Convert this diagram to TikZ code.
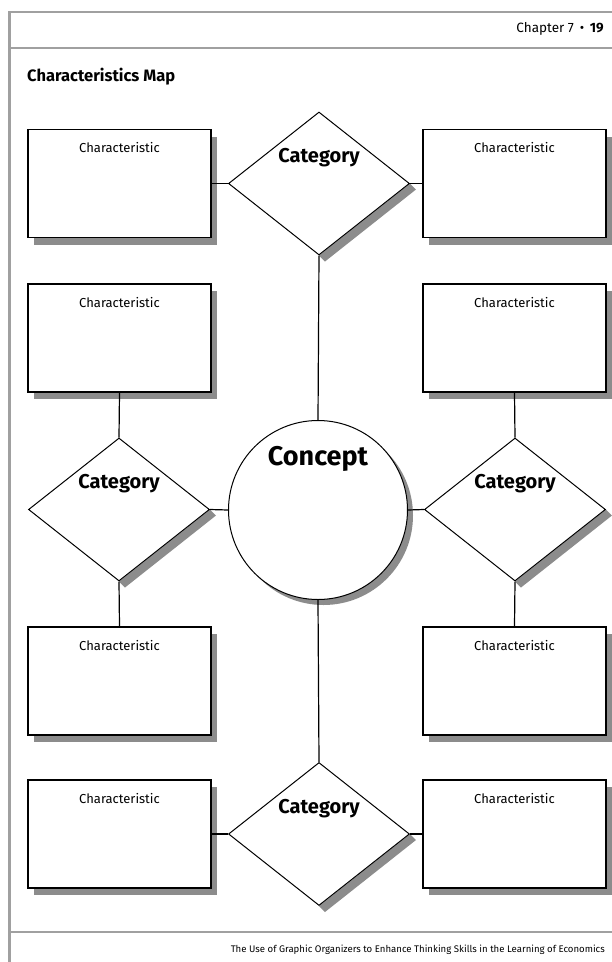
\documentclass[tikz,border=0pt]{standalone}
\usepackage{fontspec}
\setmainfont{Fira Sans}
\usetikzlibrary{shapes.geometric,calc}
\pgfdeclarelayer{shade}
\pgfsetlayers{shade,main}
\definecolor{framegray}{HTML}{A0A0A0}
\definecolor{shadegray}{HTML}{8C8C8C}
\tikzset{
  frameline/.style={framegray, line width=2pt},
  charbox/.style={draw, line width=1.3pt, fill=white, minimum width=183pt,
    minimum height=108pt, inner sep=0pt,
    preaction={fill=shadegray, transform canvas={shift={(6pt,-7pt)}}}},
  chartext/.style={anchor=base, inner sep=0pt, font=\fontsize{13}{15}\selectfont},
  catdiamond/.style={diamond, draw, line width=1pt, fill=white,
    minimum width=181pt, minimum height=143pt, inner sep=0pt},
  cattext/.style={anchor=base, inner sep=0pt, font=\bfseries\fontsize{20}{24}\selectfont},
  conceptcircle/.style={circle, draw, line width=1pt, fill=white,
    minimum size=179pt, inner sep=0pt,
    preaction={fill=shadegray, transform canvas={shift={(5.5pt,-5.5pt)}}}},
  link/.style={line width=1.2pt, black},
}
% hard shadow along the lower right edge of a diamond
\newcommand{\diamondshade}[1]{%
  \begin{pgfonlayer}{shade}
    \fill[shadegray] (#1.east) -- (#1.south) -- ([shift={(6pt,-6pt)}]#1.south)
      -- ([shift={(6pt,-6pt)}]#1.east) -- cycle;
  \end{pgfonlayer}}
\begin{document}
\begin{tikzpicture}[x=1pt,y=-1pt]
\useasboundingbox (0,0) rectangle (612,962);

% page frame
\draw[frameline] (9.5,12) -- (612,12);
\draw[frameline] (9.5,48) -- (612,48);
\draw[frameline] (9.5,932) -- (612,932);
\draw[framegray, line width=2.5pt] (9.5,11) -- (9.5,962);

% header, title, footer
\node[anchor=base east, inner sep=0pt, font=\fontsize{13.5}{16}\selectfont] (chap) at (604,32) {Chapter 7 \,•\, \textbf{19}};
\node[anchor=base west, inner sep=0pt, font=\bfseries\fontsize{16.5}{20}\selectfont] (title) at (27,81) {Characteristics Map};
\node[anchor=base east, inner sep=0pt, font=\fontsize{9.6}{12}\selectfont] (foot) at (605,952) {The Use of Graphic Organizers to Enhance Thinking Skills in the Learning of Economics};

% central concept
\node[conceptcircle] (concept) at (318,510) {};
\node[anchor=base, inner sep=0pt, font=\bfseries\fontsize{27}{32}\selectfont] (concepttext) at (318,465) {Concept};

% category diamonds
\node[catdiamond] (dtop) at (319,183.5) {};
\node[catdiamond] (dleft) at (119,509.5) {};
\node[catdiamond] (dright) at (515,509.5) {};
\node[catdiamond] (dbot) at (319,834) {};
\diamondshade{dtop}
\diamondshade{dleft}
\diamondshade{dright}
\diamondshade{dbot}
\node[cattext] (ctop) at ([yshift=21pt]dtop.center) {Category};
\node[cattext] (cleft) at ([yshift=21pt]dleft.center) {Category};
\node[cattext] (cright) at ([yshift=21pt]dright.center) {Category};
\node[cattext] (cbot) at ([yshift=21pt]dbot.center) {Category};

% characteristic boxes
\node[charbox] (b1l) at (119.5,183.5) {};
\node[charbox] (b1r) at (514.5,183.5) {};
\node[charbox] (b2l) at (119.5,338) {};
\node[charbox] (b2r) at (514.5,338) {};
\node[charbox] (b4l) at (119.5,681) {};
\node[charbox] (b4r) at (514.5,681) {};
\node[charbox] (b5l) at (119.5,834) {};
\node[charbox] (b5r) at (514.5,834) {};
\foreach \b in {b1l,b1r,b2l,b2r,b4l,b4r,b5l,b5r}
  \node[chartext] (\b text) at ([yshift=-24pt]\b.north) {Characteristic};

% connectors
\draw[link] (dtop.south) -- (concept.north);
\draw[link] (concept.south) -- (dbot.north);
\draw[link] (dleft.east) -- (concept.west);
\draw[link] (concept.east) -- (dright.west);
\draw[link] (b1l.east) -- (dtop.west);
\draw[link] (dtop.east) -- (b1r.west);
\draw[link] (b5l.east) -- (dbot.west);
\draw[link] (dbot.east) -- (b5r.west);
\draw[link] (b2l.south) -- (dleft.north);
\draw[link] (dleft.south) -- (b4l.north);
\draw[link] (b2r.south) -- (dright.north);
\draw[link] (dright.south) -- (b4r.north);
\end{tikzpicture}
\end{document}
